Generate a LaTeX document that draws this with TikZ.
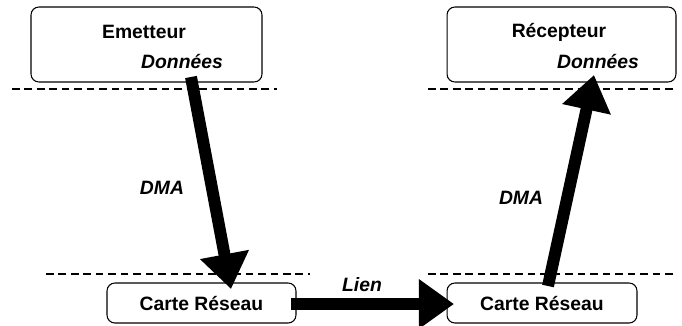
\documentclass[tikz,border=0pt]{standalone}
\usepackage{fontspec}
\setmainfont{Liberation Sans}
\usetikzlibrary{arrows.meta}

\tikzset{
    box/.style={draw, rounded corners=4.5pt, line width=0.6pt, inner sep=0pt},
    sep/.style={dash pattern=on 4.3pt off 2.8pt, line width=0.6pt},
    flow/.style={line width=6.8pt, -{Triangle[width=27pt,length=20pt]}},
    ttl/.style={font=\fontsize{11}{13}\selectfont\bfseries},
    lbl/.style={font=\fontsize{11}{13}\selectfont\bfseries\itshape},
}

\begin{document}
\begin{tikzpicture}[x=0.02cm, y=-0.02cm]
    \useasboundingbox (0,0) rectangle (682,325);

    % Define the boxes
    \node[box, minimum width=4.62cm, minimum height=1.5cm] (emet) at (146.5,44.5) {};
    \node[box, minimum width=4.58cm, minimum height=1.5cm] (recep) at (561.5,44.5) {};
    \node[box, ttl, minimum width=3.78cm, minimum height=0.8cm] (carteA) at (201.5,303) {Carte Réseau};
    \node[box, ttl, minimum width=3.8cm, minimum height=0.8cm] (carteB) at (542,303) {Carte Réseau};

    % Texts in the upper boxes
    \node[ttl] (emetT) at (144,32) {Emetteur};
    \node[lbl] (emetD) at (182,62) {Données};
    \node[ttl] (recepT) at (559,32) {Récepteur};
    \node[lbl] (recepD) at (598,62) {Données};

    % Draw the separation lines
    \draw[sep] (12,89) -- (277,89);
    \draw[sep] (428,89) -- (676,89);
    \draw[sep] (46,274) -- (310,274);
    \draw[sep] (428,274) -- (676,274);

    % Define arrow ends
    \coordinate (downS) at (191,77);
    \coordinate (downE) at (231,289);
    \coordinate (upS) at (548,286);
    \coordinate (upE) at (594,75);
    \coordinate (linkS) at (291,304);
    \coordinate (linkE) at (454,304);

    % Draw the data flow
    \draw[flow] (downS) -- (downE);
    \draw[flow] (upS) -- (upE);
    \draw[flow] (linkS) -- (linkE);

    % Labels of the flow
    \node[lbl] (dmaA) at (162,188) {DMA};
    \node[lbl] (dmaB) at (521,198) {DMA};
    \node[lbl] (lien) at (362,285) {Lien};
\end{tikzpicture}
\end{document}
